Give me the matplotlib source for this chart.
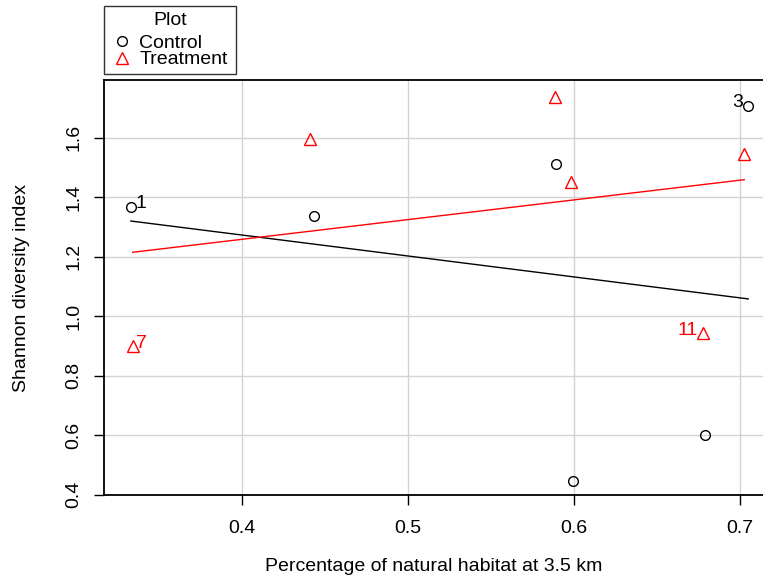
import matplotlib.pyplot as plt
import numpy as np

# Control plots (circles)
ctrl_x = [0.3334, 0.4435, 0.5892, 0.5994, 0.6788, 0.7048]
ctrl_y = [1.366, 1.336, 1.513, 0.446, 0.600, 1.708]
# Treatment plots (triangles)
trt_x = [0.3345, 0.4411, 0.5886, 0.5982, 0.6776, 0.7024]
trt_y = [0.900, 1.597, 1.738, 1.452, 0.944, 1.544]

# point labels: (index into series, text, side)
ctrl_labels = [(0, "1", "right"), (5, "3", "left")]
trt_labels = [(0, "7", "right"), (4, "11", "left")]

xticks = [0.4, 0.5, 0.6, 0.7]
yticks = [0.4, 0.6, 0.8, 1.0, 1.2, 1.4, 1.6]

plt.rcParams['font.family'] = ['Liberation Sans', 'DejaVu Sans']
fs = 14

fig = plt.figure(figsize=(7.63, 5.81), dpi=100)
ax = fig.add_axes([104.3/763, 86/581, 1 - 104.3/763, 415/581])

ax.grid(True, color='#d3d3d3', linewidth=1)
ax.set_axisbelow(True)

# regression lines over each group's range
for xs, ys, col in [(ctrl_x, ctrl_y, 'black'), (trt_x, trt_y, 'red')]:
    b, a = np.polyfit(xs, ys, 1)
    xx = np.array([min(xs), max(xs)])
    ax.plot(xx, a + b*xx, color=col, linewidth=1)

ax.plot(ctrl_x, ctrl_y, linestyle='none', marker='o', markersize=7,
        markerfacecolor='none', markeredgecolor='black', markeredgewidth=1,
        label='Control')
ax.plot(trt_x, trt_y, linestyle='none', marker='^', markersize=9,
        markerfacecolor='none', markeredgecolor='red', markeredgewidth=1,
        label='Treatment')

for i, t, side in ctrl_labels:
    off = 0.003 if side == 'right' else -0.003
    ax.text(ctrl_x[i] + off, ctrl_y[i] + 0.012, t, color='black', fontsize=fs,
            ha='left' if side == 'right' else 'right', va='center')
for i, t, side in trt_labels:
    off = 0.002 if side == 'right' else -0.003
    ax.text(trt_x[i] + off, trt_y[i] + 0.008, t, color='red', fontsize=fs,
            ha='left' if side == 'right' else 'right', va='center')

ax.set_xlim(0.3174, 0.7137)
ax.set_ylim(0.399, 1.794)
ax.set_xticks(xticks)
ax.set_yticks(yticks)
ax.set_xticklabels([str(v) for v in xticks], fontsize=fs)
ax.set_yticklabels([str(v) for v in yticks], fontsize=fs, rotation=90, va='center')
ax.tick_params(direction='out', length=7, width=1)
ax.tick_params(axis='y', pad=9)
ax.tick_params(axis='x', pad=11)

ax.spines['right'].set_visible(False)
for s in ['left', 'top', 'bottom']:
    ax.spines[s].set_linewidth(1.3)

ax.set_xlabel('Percentage of natural habitat at 3.5 km', fontsize=fs, labelpad=15)
ax.set_ylabel('Shannon diversity index', fontsize=fs, labelpad=25)

leg = ax.legend(title='Plot', loc='lower left',
                bbox_to_anchor=(104.3/763, (581-74.3)/581, 132/763, 68.6/581),
                bbox_transform=fig.transFigure, mode='expand',
                fontsize=fs, title_fontsize=fs, fancybox=False, frameon=True,
                edgecolor='black', borderaxespad=0, handletextpad=0.3,
                handlelength=1.2, labelspacing=-0.05, borderpad=0.3)
leg.get_frame().set_linewidth(1)
leg._legend_box.sep = 4  # extra gap under the title

fig.savefig('out.png', dpi=100)
